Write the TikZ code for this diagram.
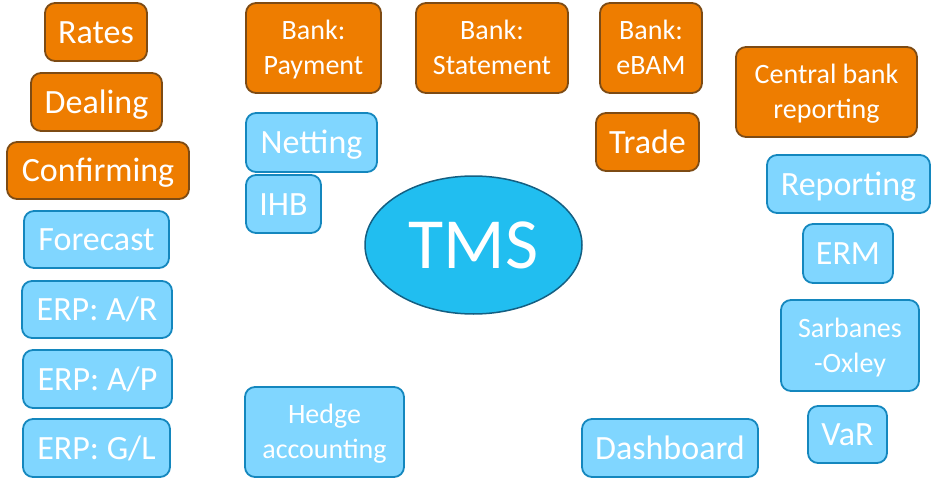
\documentclass[tikz,border=0pt]{standalone}
\usepackage{fontspec}
\setmainfont{Carlito}
\usepackage{tikz}
\usetikzlibrary{shapes.geometric}
\definecolor{orfill}{RGB}{238,125,0}
\definecolor{ordraw}{RGB}{125,75,20}
\definecolor{blfill}{RGB}{128,214,255}
\definecolor{bldraw}{RGB}{20,135,190}
\definecolor{tmsfill}{RGB}{33,190,240}
\definecolor{tmsdraw}{RGB}{20,95,130}

\begin{document}
\begin{tikzpicture}[
    x=1pt, y=-1pt,
    box/.style={
      rectangle, rounded corners=10pt, line width=1.8pt,
      inner sep=0pt, align=center, text=white
    },
    oneline/.style={
      font=\fontsize{34}{40}\selectfont,
      text height=22pt, text depth=0pt
    },
    twoline/.style={
      font=\fontsize{28}{35}\selectfont,
      text height=53pt, text depth=0pt
    },
    orbox/.style={box, draw=ordraw, fill=orfill},
    blbox/.style={box, draw=bldraw, fill=blfill},
    hub/.style={
      ellipse, draw=tmsdraw, fill=tmsfill, line width=1.5pt,
      minimum width=217pt, minimum height=138pt, inner sep=0pt,
      text=white, font=\fontsize{72}{80}\selectfont,
      text height=46pt, text depth=0pt
    }
  ]
  \useasboundingbox (0,0) rectangle (938,490);

  % Left column
  \node[orbox, oneline, minimum width=102pt, minimum height=58pt] (rates) at (96,32) {Rates};
  \node[orbox, oneline, minimum width=131pt, minimum height=58pt] (dealing) at (96.5,102) {Dealing};
  \node[orbox, oneline, minimum width=182pt, minimum height=57pt] (confirming) at (98,170.5) {Confirming};
  \node[blbox, oneline, minimum width=145pt, minimum height=57pt] (forecast) at (96.5,239.5) {Forecast};
  \node[blbox, oneline, minimum width=150pt, minimum height=57pt] (erpar) at (97,309.5) {ERP: A/R};
  \node[blbox, oneline, minimum width=149pt, minimum height=58pt] (erpap) at (97.5,379) {ERP: A/P};
  \node[blbox, oneline, minimum width=147pt, minimum height=58pt] (erpgl) at (96.5,448) {ERP: G/L};

  % Bank row
  \node[orbox, twoline, minimum width=135pt, minimum height=90pt] (payment) at (313.5,48) {Bank:\\Payment};
  \node[orbox, twoline, minimum width=152pt, minimum height=90pt] (statement) at (492,48) {Bank:\\Statement};
  \node[orbox, twoline, minimum width=102pt, minimum height=90pt] (ebam) at (651,48) {Bank:\\eBAM};

  % Around the hub
  \node[blbox, oneline, minimum width=131pt, minimum height=59pt] (netting) at (311.5,142.5) {Netting};
  \node[blbox, oneline, minimum width=75pt, minimum height=58pt] (ihb) at (283.5,204) {IHB};
  \node[orbox, oneline, minimum width=103pt, minimum height=58pt] (trade) at (647.5,142) {Trade};
  \node[hub] (tms) at (473.5,245) {TMS};
  \node[blbox, twoline, minimum width=159pt, minimum height=90pt] (hedge) at (324.5,432) {Hedge\\accounting};
  \node[blbox, oneline, minimum width=176pt, minimum height=58pt] (dashboard) at (670,448) {Dashboard};

  % Right column
  \node[orbox, twoline, minimum width=181pt, minimum height=90pt] (central) at (826.5,92) {Central bank\\reporting};
  \node[blbox, oneline, minimum width=163pt, minimum height=58pt] (reporting) at (848.5,184) {Reporting};
  \node[blbox, oneline, minimum width=90pt, minimum height=59pt] (erm) at (848,253.5) {ERM};
  \node[blbox, twoline, minimum width=138pt, minimum height=91pt] (sox) at (850,345.5) {Sarbanes\\-Oxley};
  \node[blbox, oneline, minimum width=79pt, minimum height=57pt] (var) at (847.5,434.5) {VaR};
\end{tikzpicture}
\end{document}
